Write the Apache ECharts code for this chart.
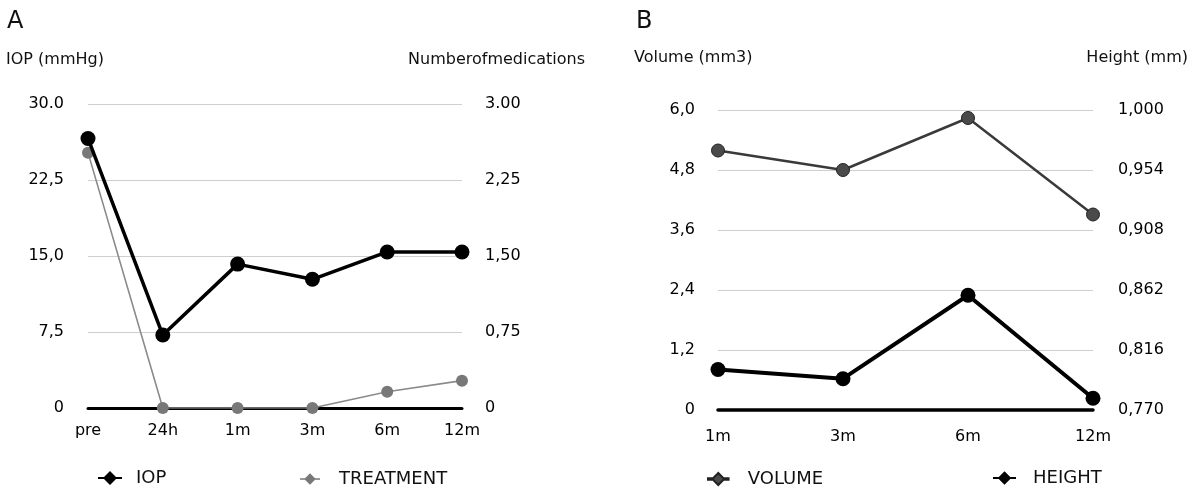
<!DOCTYPE html>
<html>
<head>
<meta charset="utf-8">
<script src="https://cdn.jsdelivr.net/npm/echarts@6/dist/echarts.min.js"></script>
<style>html,body{margin:0;padding:0;background:#fff}#c{width:1199px;height:488px}</style>
</head>
<body>
<div id="c"></div>
<script>
// ---- Data ----
const catsA = ['pre', '24h', '1m', '3m', '6m', '12m'];
const iop = [26.6, 7.2, 14.2, 12.7, 15.4, 15.4];
const treatment = [2.52, 0, 0, 0, 0.16, 0.27];
const catsB = ['1m', '3m', '6m', '12m'];
const volume = [5.19, 4.8, 5.84, 3.91];
const height = [0.801, 0.794, 0.858, 0.779];

const iopTickValues = [0, 7.5, 15, 22.5, 30];
const iopTicks = ['0', '7,5', '15,0', '22,5', '30.0'];
const medTickValues = [0, 0.75, 1.5, 2.25, 3];
const medTicks = ['0', '0,75', '1,50', '2,25', '3.00'];
const volTickValues = [0, 1.2, 2.4, 3.6, 4.8, 6.0];
const volTicks = ['0', '1,2', '2,4', '3,6', '4,8', '6,0'];
const heightTickValues = [0.770, 0.816, 0.862, 0.908, 0.954, 1.000];
const heightTicks = ['0,770', '0,816', '0,862', '0,908', '0,954', '1,000'];

function lab(values, texts) {
  return function (v) {
    let best = 0, d = Infinity;
    values.forEach((t, i) => { const dd = Math.abs(t - v); if (dd < d) { d = dd; best = i; } });
    return texts[best];
  };
}

const FONT = 'DejaVu Sans';
const tickLabel = { color: '#000', fontFamily: FONT, fontSize: 16 };
const nameStyle = { color: '#111', fontFamily: FONT, fontSize: 16, fontWeight: 'normal' };
const legendIcon = 'path://M0,6 L6,6 L12,0 L18,6 L24,6 L24,8 L18,8 L12,14 L6,8 L0,8 Z';

const chart = echarts.init(document.getElementById('c'), null, { renderer: 'canvas' });
chart.setOption({
  animation: false,
  backgroundColor: '#fff',
  title: [
    { text: 'A', left: 7, top: 10, textStyle: { fontFamily: FONT, fontSize: 24, fontWeight: 'normal', color: '#111' }, padding: 0 },
    { text: 'IOP (mmHg)', left: 6, top: 52, textStyle: nameStyle, padding: 0 },
    { text: 'Numberofmedications', right: 614, top: 52, textStyle: nameStyle, padding: 0 },
    { text: 'B', left: 636, top: 10, textStyle: { fontFamily: FONT, fontSize: 24, fontWeight: 'normal', color: '#111' }, padding: 0 },
    { text: 'Volume (mm3)', left: 634, top: 50, textStyle: nameStyle, padding: 0 },
    { text: 'Height (mm)', right: 11, top: 50, textStyle: nameStyle, padding: 0 }
  ],
  legend: [
    { data: ['IOP'], left: 98, top: 469, icon: legendIcon, itemWidth: 24, itemHeight: 14, padding: 0,
      textStyle: { fontFamily: FONT, fontSize: 18, color: '#111', padding: [0, 0, 0, 9] } },
    { data: ['TREATMENT'], left: 300, top: 470, icon: legendIcon, itemWidth: 20, itemHeight: 12, padding: 0,
      textStyle: { fontFamily: FONT, fontSize: 18, color: '#111', padding: [0, 0, 0, 14] } },
    { data: ['VOLUME'], left: 707, top: 470, icon: legendIcon, itemWidth: 21, itemHeight: 12, padding: 0,
      textStyle: { fontFamily: FONT, fontSize: 18, color: '#111', padding: [0, 0, 0, 14] } },
    { data: ['HEIGHT'], left: 993, top: 469, icon: legendIcon, itemWidth: 23, itemHeight: 14, padding: 0,
      textStyle: { fontFamily: FONT, fontSize: 18, color: '#111', padding: [0, 0, 0, 12] } }
  ],
  grid: [
    { left: 88, top: 104, width: 374, height: 304 },
    { left: 718, top: 110, width: 375, height: 300 }
  ],
  xAxis: [
    { gridIndex: 0, type: 'category', data: catsA, boundaryGap: false,
      axisLine: { lineStyle: { color: '#000', width: 3 } }, axisTick: { show: false },
      axisLabel: Object.assign({ margin: 15 }, tickLabel) },
    { gridIndex: 1, type: 'category', data: catsB, boundaryGap: false,
      axisLine: { lineStyle: { color: '#000', width: 3.5 } }, axisTick: { show: false },
      axisLabel: Object.assign({ margin: 19 }, tickLabel) }
  ],
  yAxis: [
    { gridIndex: 0, type: 'value', min: 0, max: 30, interval: 7.5, position: 'left',
      axisLine: { show: false }, axisTick: { show: false },
      splitLine: { lineStyle: { color: '#cfcfcf', width: 1.2 } },
      axisLabel: Object.assign({ margin: 24, formatter: lab(iopTickValues, iopTicks) }, tickLabel) },
    { gridIndex: 0, type: 'value', min: 0, max: 3, interval: 0.75, position: 'right',
      axisLine: { show: false }, axisTick: { show: false }, splitLine: { show: false },
      axisLabel: Object.assign({ margin: 23, formatter: lab(medTickValues, medTicks) }, tickLabel) },
    { gridIndex: 1, type: 'value', min: 0, max: 6, interval: 1.2, position: 'left',
      axisLine: { show: false }, axisTick: { show: false },
      splitLine: { lineStyle: { color: '#cfcfcf', width: 1.2 } },
      axisLabel: Object.assign({ margin: 23, formatter: lab(volTickValues, volTicks) }, tickLabel) },
    { gridIndex: 1, type: 'value', min: 0.770, max: 1.000, position: 'right',
      axisLine: { show: false }, axisTick: { show: false }, splitLine: { show: false },
      axisLabel: Object.assign({ margin: 25, customValues: heightTickValues, formatter: lab(heightTickValues, heightTicks) }, tickLabel) }
  ],
  series: [
    { name: 'TREATMENT', type: 'line', xAxisIndex: 0, yAxisIndex: 1, data: treatment, z: 3,
      symbol: 'circle', symbolSize: 12, showAllSymbol: true,
      lineStyle: { color: '#8a8a8a', width: 1.6 }, itemStyle: { color: '#787878' } },
    { name: 'IOP', type: 'line', xAxisIndex: 0, yAxisIndex: 0, data: iop, z: 4,
      symbol: 'circle', symbolSize: 15, showAllSymbol: true,
      lineStyle: { color: '#000', width: 3.5 }, itemStyle: { color: '#000' } },
    { name: 'VOLUME', type: 'line', xAxisIndex: 1, yAxisIndex: 2, data: volume, z: 3,
      symbol: 'circle', symbolSize: 13, showAllSymbol: true,
      lineStyle: { color: '#3a3a3a', width: 2.5 }, itemStyle: { color: '#4a4a4a', borderColor: '#222', borderWidth: 1 } },
    { name: 'HEIGHT', type: 'line', xAxisIndex: 1, yAxisIndex: 3, data: height, z: 4,
      symbol: 'circle', symbolSize: 15, showAllSymbol: true,
      lineStyle: { color: '#000', width: 4 }, itemStyle: { color: '#000' } }
  ]
});
</script>
</body>
</html>
